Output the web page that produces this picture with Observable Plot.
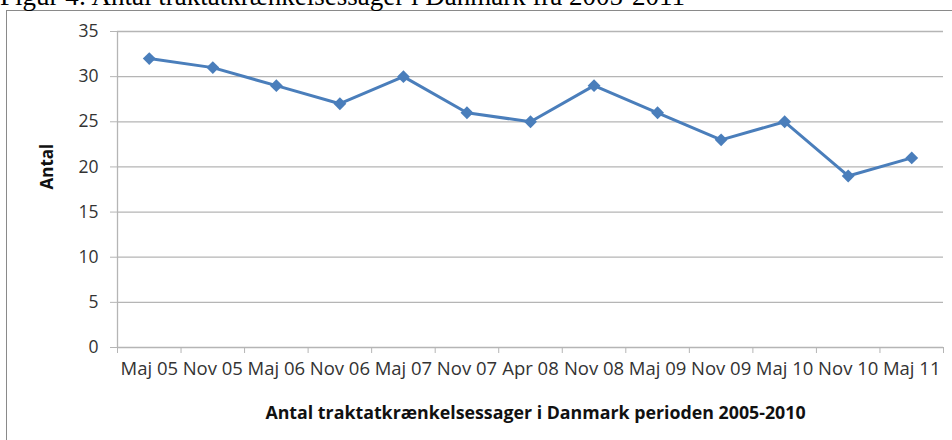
<!DOCTYPE html>
<html><head><meta charset="utf-8">
<script src="https://cdn.jsdelivr.net/npm/d3@7"></script>
<script src="https://cdn.jsdelivr.net/npm/@observablehq/plot@0.6"></script>
<style>
body{margin:0;background:#fff;overflow:hidden;}
#wrap{position:relative;width:952px;height:440px;overflow:hidden;background:#fff;}
#title{position:absolute;left:0;top:-17px;font-family:"Liberation Serif";font-size:27px;line-height:27px;white-space:nowrap;color:#000;}
#box{position:absolute;left:6px;top:10px;width:1000px;height:500px;border:1.5px solid #8a8a8a;box-sizing:border-box;}
#chart{position:absolute;left:0;top:0;}
</style></head><body>
<div id="wrap"><div id="box"></div><div id="title"></div><div id="chart"></div></div>
<script>
const titleText = "Figur 4: Antal traktatkrænkelsessager i Danmark fra 2005-2011";
const xTitle = "Antal traktatkrænkelsessager i Danmark perioden 2005-2010";
const yTitle = "Antal";
const categories = ["Maj 05","Nov 05","Maj 06","Nov 06","Maj 07","Nov 07","Apr 08","Nov 08","Maj 09","Nov 09","Maj 10","Nov 10","Maj 11"];
const values = [32, 31, 29, 27, 30, 26, 25, 29, 26, 23, 25, 19, 21];
const yTicks = [0, 5, 10, 15, 20, 25, 30, 35];

document.getElementById("title").textContent = titleText;

const data = categories.map((c, i) => ({i, c, v: values[i]}));
const idx = d3.range(categories.length);
const bounds = d3.range(categories.length + 1).map(k => k - 0.5);
const grid = "#b5b5b5";

const plot = Plot.plot({
  width: 952, height: 440,
  marginLeft: 117, marginRight: 9, marginTop: 31, marginBottom: 93,
  style: {fontFamily: "Open Sans", fontSize: "17px", color: "#333", background: "transparent", overflow: "visible"},
  x: {domain: [-0.5, categories.length - 0.5], axis: null},
  y: {domain: [0, 35], axis: null},
  marks: [
    Plot.gridY(yTicks, {stroke: grid, strokeOpacity: 1, strokeWidth: 1.3}),
    Plot.ruleX([-0.5], {y1: 0, y2: 35, stroke: grid, strokeWidth: 1.3}),
    Plot.axisY(yTicks, {tickSize: 7, tickPadding: 12, stroke: grid, fill: "#333", label: null, fontSize: 17.5}),
    Plot.axisX(bounds, {tickSize: 6, tickFormat: () => "", stroke: grid, label: null}),
    Plot.axisX(idx, {tickSize: 0, tickPadding: 14, tickFormat: i => categories[i], fill: "#333", label: null, fontSize: 18.5}),
    Plot.line(data, {x: "i", y: "v", stroke: "#4a7ebb", strokeWidth: 3}),
    Plot.dot(data, {x: "i", y: "v", symbol: "diamond2", r: 5.8, fill: "#4a7ebb", stroke: "none"}),
    Plot.text([xTitle], {frameAnchor: "bottom", dy: 71, dx: 5, fontWeight: "bold", fontSize: 17.8, fill: "#111"}),
    Plot.text([yTitle], {frameAnchor: "left", dx: -70, rotate: -90, fontWeight: "bold", fontSize: 17, fill: "#111"})
  ]
});
document.getElementById("chart").appendChild(plot);
</script>
</body></html>
